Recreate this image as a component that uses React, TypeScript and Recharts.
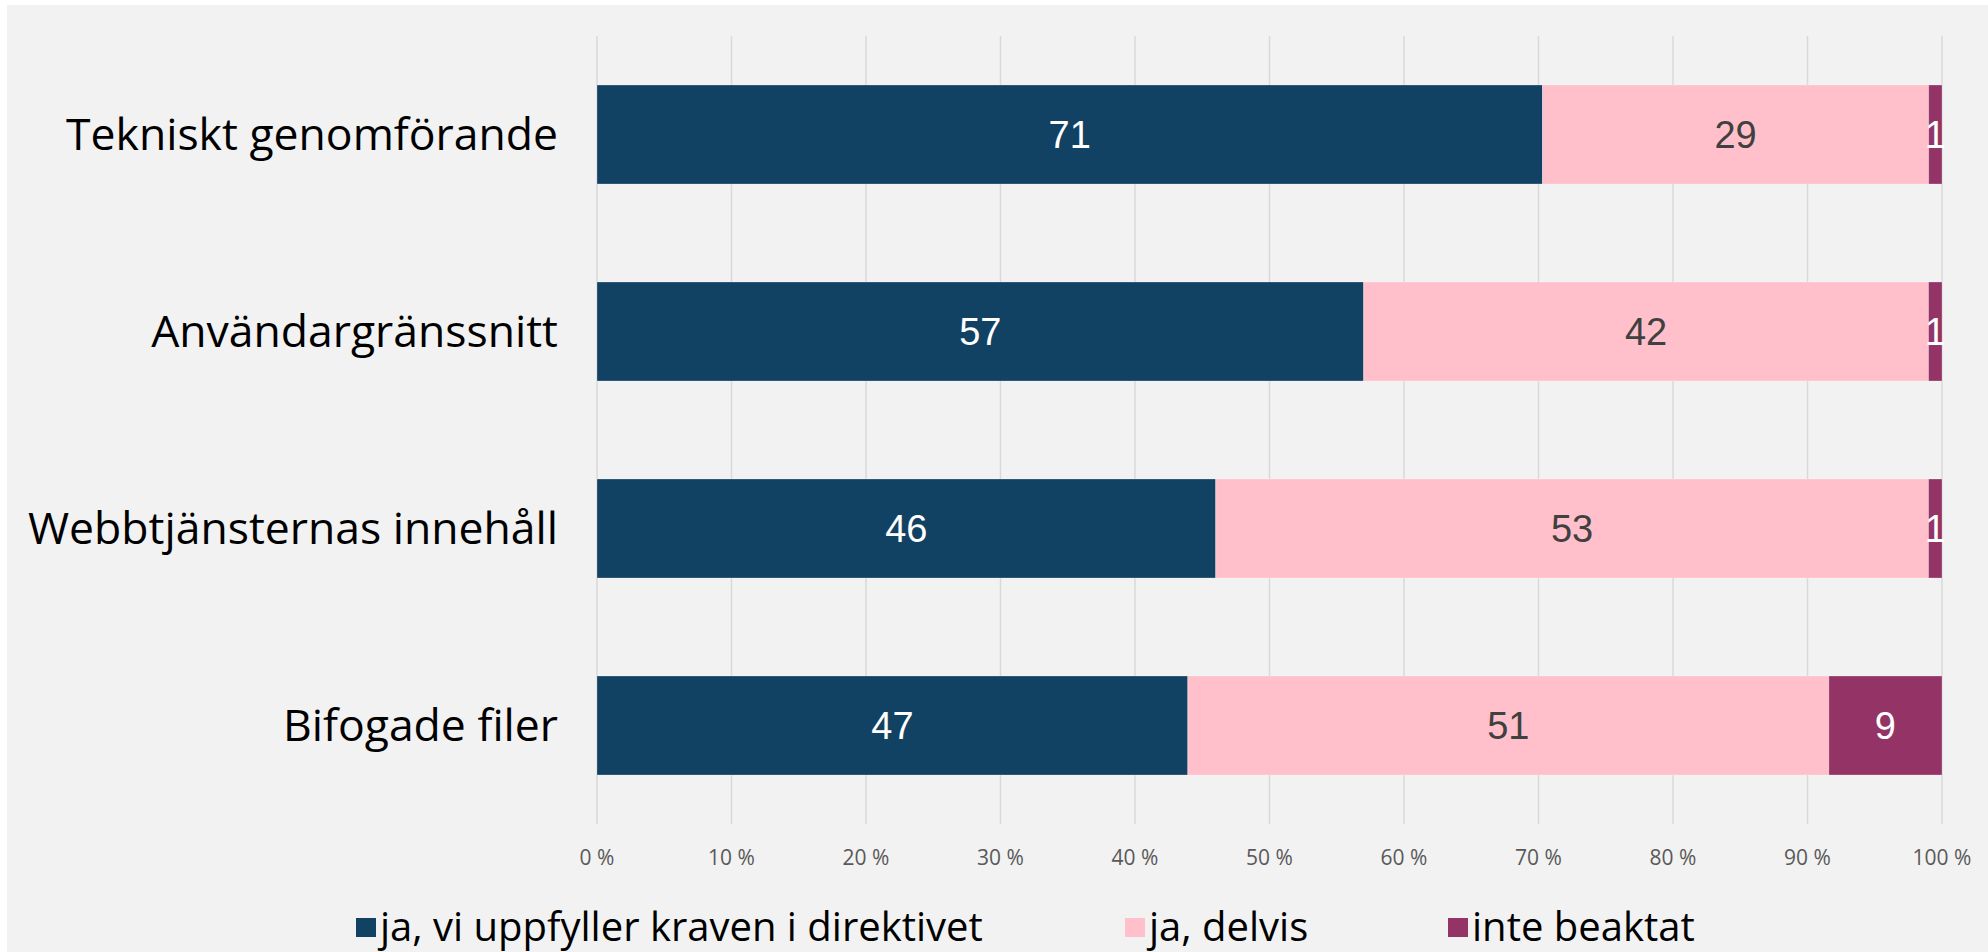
import React from 'react';
import { BarChart, Bar, XAxis, YAxis, CartesianGrid, LabelList } from 'recharts';

const categories = ['Tekniskt genomförande', 'Användargränssnitt', 'Webbtjänsternas innehåll', 'Bifogade filer'];
const fullyMet = [71, 57, 46, 47];
const partly = [29, 42, 53, 51];
const notConsidered = [1, 1, 1, 9];
const xTicks = [0, 0.1, 0.2, 0.3, 0.4, 0.5, 0.6, 0.7, 0.8, 0.9, 1];

const seriesNames = ['ja, vi uppfyller kraven i direktivet', 'ja, delvis', 'inte beaktat'];
const seriesColors = ['#124263', '#FFC0CB', '#943366'];
const labelColors = ['#ffffff', '#404040', '#ffffff'];

// Table for the library: share of each row total (100 % stacked), raw values kept for labels
const data = categories.map((name, i) => {
  const total = fullyMet[i] + partly[i] + notConsidered[i];
  return {
    name,
    a: fullyMet[i] / total,
    b: partly[i] / total,
    c: notConsidered[i] / total,
    aRaw: fullyMet[i],
    bRaw: partly[i],
    cRaw: notConsidered[i],
  };
});

const W = 1988;
const H = 952;
const LABEL_FONT = '"Open Sans", Roboto, "Liberation Sans", Arial, sans-serif';
const NUM_FONT = '"Liberation Sans", Arial, sans-serif';

const legendSquareX = [356, 1125, 1448];

const HtmlLegend = () => (
  <div style={{ position: 'absolute', left: 0, top: 880, width: W, height: 70 }}>
    {seriesNames.map((name, i) => (
      <React.Fragment key={i}>
        <div
          style={{
            position: 'absolute',
            left: legendSquareX[i],
            top: 38,
            width: 20,
            height: 19,
            background: seriesColors[i],
          }}
        />
        <div
          style={{
            position: 'absolute',
            left: legendSquareX[i] + 24,
            top: 26,
            fontFamily: LABEL_FONT,
            fontSize: 40,
            lineHeight: '40px',
            height: 40,
            color: '#000',
            whiteSpace: 'nowrap',
          }}
        >
          {name}
        </div>
      </React.Fragment>
    ))}
  </div>
);

export default function App() {
  return (
    <div style={{ position: 'absolute', left: 0, top: 0, width: W, height: H, background: '#ffffff', overflow: 'hidden' }}>
      <div style={{ position: 'absolute', left: 7, top: 5, width: W - 7, height: H - 5, background: '#f2f2f2' }} />
      <div style={{ position: 'absolute', left: 0, top: 0 }}>
        <BarChart
          width={W}
          height={H}
          data={data}
          layout="vertical"
          barSize={99}
          margin={{ top: 36, right: 46, bottom: 72, left: 0 }}
        >
          <CartesianGrid horizontal={false} vertical={true} stroke="#d9d9d9" strokeWidth={1.5} />
          <XAxis
            type="number"
            domain={[0, 1]}
            ticks={xTicks}
            tickFormatter={(v: number) => `${Math.round(v * 100)} %`}
            axisLine={false}
            tickLine={false}
            tickMargin={20}
            height={56}
            tick={{ fill: '#595959', fontSize: 21, fontFamily: LABEL_FONT }}
          />
          <YAxis
            type="category"
            dataKey="name"
            width={597}
            axisLine={false}
            tickLine={false}
            tickMargin={33}
            tick={{ fill: '#000000', fontSize: 44.5, fontFamily: LABEL_FONT }}
          />
          <Bar dataKey="a" name={seriesNames[0]} stackId="s" fill={seriesColors[0]} stroke="#ffffff" strokeOpacity={0.25} strokeWidth={1} isAnimationActive={false}>
            <LabelList dataKey="aRaw" position="center" fill={labelColors[0]} fontSize={38} fontFamily={NUM_FONT} />
          </Bar>
          <Bar dataKey="b" name={seriesNames[1]} stackId="s" fill={seriesColors[1]} stroke="#ffffff" strokeOpacity={0.25} strokeWidth={1} isAnimationActive={false}>
            <LabelList dataKey="bRaw" position="center" fill={labelColors[1]} fontSize={38} fontFamily={NUM_FONT} />
          </Bar>
          <Bar dataKey="c" name={seriesNames[2]} stackId="s" fill={seriesColors[2]} stroke="#ffffff" strokeOpacity={0.25} strokeWidth={1} isAnimationActive={false}>
            <LabelList dataKey="cRaw" position="center" fill={labelColors[2]} fontSize={38} fontFamily={NUM_FONT} />
          </Bar>
        </BarChart>
      </div>
      <HtmlLegend />
    </div>
  );
}
